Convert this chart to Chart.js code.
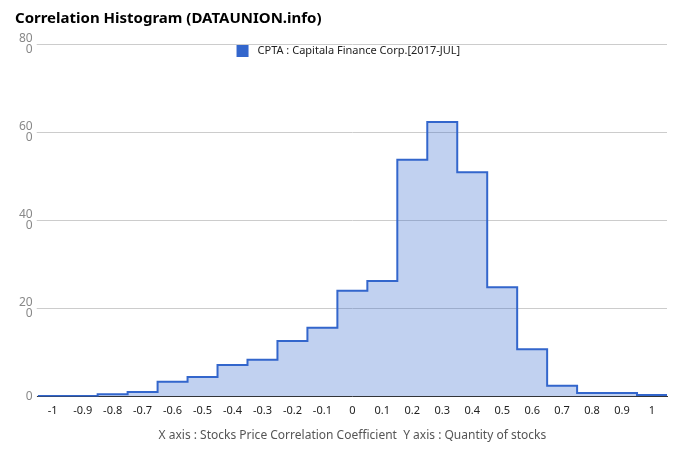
<!DOCTYPE html>
<html>
<head>
<meta charset="utf-8">
<script src="https://cdn.jsdelivr.net/npm/chart.js@4/dist/chart.umd.min.js"></script>
<style>
  html, body { margin: 0; padding: 0; background: #fff; }
</style>
</head>
<body>
<canvas id="histChart" width="680" height="462"></canvas>
<script>
// Correlation bins (x axis) and quantity of stocks per bin
var bins = [-1, -0.9, -0.8, -0.7, -0.6, -0.5, -0.4, -0.3, -0.2, -0.1, 0,
            0.1, 0.2, 0.3, 0.4, 0.5, 0.6, 0.7, 0.8, 0.9, 1];
var counts = [1, 1, 5, 10, 33, 44, 71, 83, 126, 156, 240,
              262, 537, 623, 509, 248, 107, 24, 8, 8, 3];
var yTicks = [0, 200, 400, 600, 800];
var binWidth = 0.1;
var seriesName = "CPTA : Capitala Finance Corp.[2017-JUL]";

// stepped line: every bin starts at its left edge, last one closes at the right edge
var points = bins.map(function (b, i) {
    return { x: b - binWidth / 2, y: counts[i] };
});
points.push({ x: bins[bins.length - 1] + binWidth / 2, y: counts[counts.length - 1] });

// legend drawn inside the plot, just under the top gridline
var insideLegend = {
    id: "insideLegend",
    afterDraw: function (chart) {
        var c = chart.ctx, area = chart.chartArea;
        c.save();
        c.font = "11px 'Noto Sans'";
        var label = chart.data.datasets[0].label;
        var w = 12 + 9 + c.measureText(label).width;
        var x = (area.left + area.right) / 2 - w / 2 - 4;
        var y = area.top + 1;
        c.fillStyle = "#3366cc";
        c.fillRect(x, y, 12, 12);
        c.fillStyle = "#222";
        c.textBaseline = "middle";
        c.fillText(label, x + 21, y + 6);
        c.restore();
    }
};

window.onload = function () {
    var ctx = document.getElementById("histChart").getContext("2d");
    new Chart(ctx, {
        type: "line",
        data: {
            datasets: [{
                label: seriesName,
                data: points,
                stepped: true,
                borderColor: "#3366cc",
                backgroundColor: "rgba(51, 102, 204, 0.3)",
                borderWidth: 2,
                pointRadius: 0,
                fill: "origin"
            }]
        },
        plugins: [insideLegend],
        options: {
            responsive: false,
            animation: false,
            layout: { padding: { left: 15, right: 13, top: 0, bottom: 19 } },
            plugins: {
                title: {
                    display: true,
                    text: "Correlation Histogram (DATAUNION.info)",
                    align: "start",
                    color: "#000",
                    font: { family: "Noto Sans", size: 15, weight: "bold" },
                    padding: { top: 10, bottom: 16 }
                },
                legend: { display: false },
                tooltip: { enabled: false }
            },
            scales: {
                x: {
                    type: "linear",
                    min: bins[0] - binWidth / 2,
                    max: bins[bins.length - 1] + binWidth / 2,
                    afterBuildTicks: function (scale) {
                        scale.ticks = bins.map(function (b) { return { value: b }; });
                    },
                    grid: { display: false },
                    border: { color: "#333", width: 1 },
                    ticks: {
                        color: "#222",
                        font: { family: "Noto Sans", size: 11 },
                        maxRotation: 0,
                        autoSkip: false,
                        padding: 0,
                        callback: function (v) { return String(Math.round(v * 10) / 10); }
                    },
                    title: {
                        display: true,
                        text: "X axis : Stocks Price Correlation Coefficient  Y axis : Quantity of stocks",
                        color: "#555",
                        font: { family: "Noto Sans", size: 12 },
                        padding: { top: 11, bottom: 0 }
                    }
                },
                y: {
                    min: 0,
                    max: 800,
                    afterBuildTicks: function (scale) {
                        scale.ticks = yTicks.map(function (t) { return { value: t }; });
                    },
                    grid: { color: "#cccccc", drawTicks: true, tickLength: 1, tickColor: "#cccccc" },
                    border: { display: false },
                    ticks: {
                        color: "#888",
                        font: { family: "Noto Sans", size: 12, lineHeight: 0.9 },
                        padding: 4,
                        // labels are wrapped like the original: "80" / "0"
                        callback: function (v) {
                            var s = String(v);
                            return s.length > 2 ? [s.slice(0, 2), s.slice(2)] : s;
                        }
                    }
                }
            }
        }
    });
};
</script>
</body>
</html>
